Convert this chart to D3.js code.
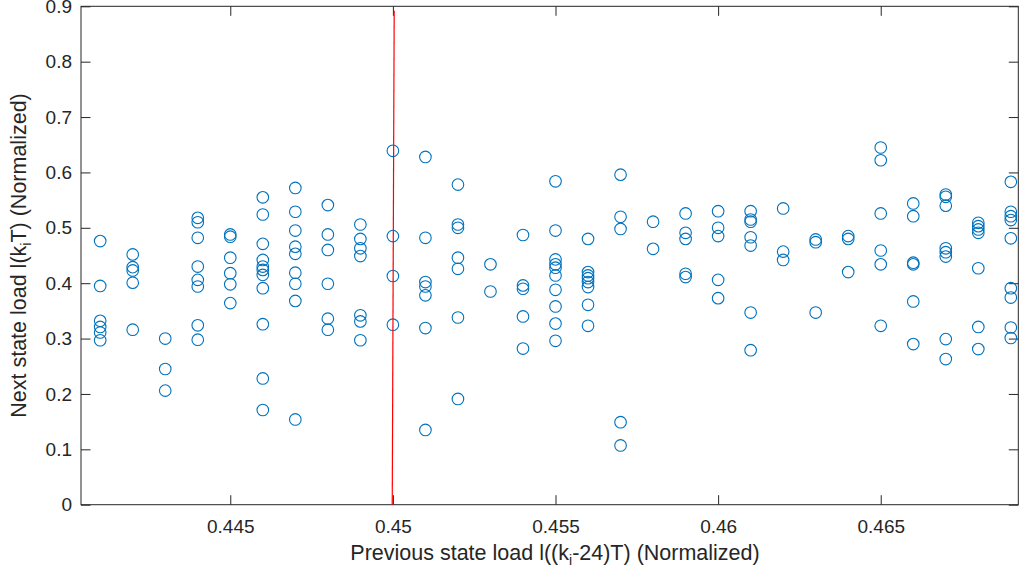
<!DOCTYPE html>
<html>
<head>
<meta charset="utf-8">
<script src="https://cdn.jsdelivr.net/npm/d3@7"></script>
<style>
  body { margin: 0; background: #fff; }
  svg { display: block; font-family: "Liberation Sans", Arial, Helvetica, sans-serif; }
</style>
</head>
<body>
<svg id="chart" width="1020" height="577"></svg>
<script>
// previous state load (x) – one column per value
const prevLoad = [0.441, 0.442, 0.443, 0.444, 0.445, 0.446, 0.447, 0.448, 0.449, 0.450,
                  0.451, 0.452, 0.453, 0.454, 0.455, 0.456, 0.457, 0.458, 0.459, 0.460,
                  0.461, 0.462, 0.463, 0.464, 0.465, 0.466, 0.467, 0.468, 0.469];

// next state load (y) for each column above
const nextLoad = [
    [0.476, 0.395, 0.332, 0.321, 0.311, 0.297],
    [0.452, 0.429, 0.423, 0.401, 0.316],
    [0.300, 0.245, 0.206],
    [0.518, 0.510, 0.482, 0.430, 0.406, 0.394, 0.324, 0.298],
    [0.488, 0.484, 0.446, 0.418, 0.398, 0.364],
    [0.555, 0.524, 0.471, 0.442, 0.430, 0.424, 0.415, 0.391, 0.326, 0.228, 0.171],
    [0.572, 0.529, 0.495, 0.466, 0.453, 0.419, 0.399, 0.368, 0.154],
    [0.541, 0.488, 0.460, 0.399, 0.336, 0.316],
    [0.506, 0.480, 0.463, 0.449, 0.342, 0.331, 0.297],
    [0.639, 0.485, 0.413, 0.325],
    [0.628, 0.482, 0.402, 0.394, 0.378, 0.319, 0.135],
    [0.578, 0.506, 0.500, 0.446, 0.426, 0.338, 0.191],
    [0.434, 0.385],
    [0.487, 0.396, 0.390, 0.340, 0.282],
    [0.584, 0.495, 0.443, 0.434, 0.428, 0.414, 0.388, 0.358, 0.327, 0.296],
    [0.480, 0.420, 0.414, 0.409, 0.402, 0.393, 0.361, 0.323],
    [0.596, 0.520, 0.498, 0.149, 0.107],
    [0.511, 0.462],
    [0.526, 0.491, 0.480, 0.417, 0.411],
    [0.530, 0.500, 0.485, 0.406, 0.373],
    [0.530, 0.515, 0.511, 0.483, 0.468, 0.347, 0.279],
    [0.535, 0.457, 0.442],
    [0.479, 0.474, 0.347],
    [0.485, 0.480, 0.420],
    [0.645, 0.622, 0.526, 0.459, 0.434, 0.323],
    [0.544, 0.521, 0.437, 0.434, 0.367, 0.290],
    [0.560, 0.556, 0.540, 0.463, 0.456, 0.448, 0.299, 0.263],
    [0.509, 0.503, 0.497, 0.491, 0.427, 0.321, 0.281],
    [0.583, 0.529, 0.521, 0.514, 0.481, 0.391, 0.374, 0.320, 0.301]
];

// red reference line (x, y) end points
const refLine = [[0.44998, 0], [0.45004, 0.892]];

const xTicks = [0.445, 0.45, 0.455, 0.46, 0.465];
const yTicks = [0, 0.1, 0.2, 0.3, 0.4, 0.5, 0.6, 0.7, 0.8, 0.9];

const xTitle = 'Previous state load l((k';
const yTitle = 'Next state load l(k';

const points = prevLoad.flatMap((x, i) => nextLoad[i].map(y => ({ x, y })));

const svg = d3.select('#chart');
const plotLeft = 81, plotRight = 1018.3, plotTop = 6.3, plotBottom = 504.7;

const x = d3.scaleLinear().domain([0.44041, 0.46923]).range([plotLeft, plotRight]);
const y = d3.scaleLinear().domain([0, 0.9]).range([plotBottom, plotTop]);

const axisColor = '#262626';
const tickLen = 9.5;

// axes box
const gAxes = svg.append('g');

gAxes.append('g')
    .attr('transform', `translate(0,${plotBottom})`)
    .call(d3.axisBottom(x).tickValues(xTicks).tickSize(-tickLen).tickPadding(15).tickFormat(d => String(d)))
    .call(g => g.selectAll('text').attr('font-size', 19).attr('fill', axisColor).attr('dy', '0.71em'));

gAxes.append('g')
    .attr('transform', `translate(0,${plotTop})`)
    .call(d3.axisTop(x).tickValues(xTicks).tickSize(-tickLen).tickFormat(''));

gAxes.append('g')
    .attr('transform', `translate(${plotLeft},0)`)
    .call(d3.axisLeft(y).tickValues(yTicks).tickSize(-tickLen).tickPadding(9).tickFormat(d => String(d)))
    .call(g => g.selectAll('text').attr('font-size', 19).attr('fill', axisColor));

gAxes.append('g')
    .attr('transform', `translate(${plotRight},0)`)
    .call(d3.axisRight(y).tickValues(yTicks).tickSize(-tickLen).tickFormat(''));

gAxes.selectAll('.domain').remove();
gAxes.selectAll('.tick line').attr('stroke', axisColor).attr('stroke-width', 1);

gAxes.append('rect')
    .attr('x', plotLeft).attr('y', plotTop)
    .attr('width', plotRight - plotLeft).attr('height', plotBottom - plotTop)
    .attr('fill', 'none').attr('stroke', axisColor).attr('stroke-width', 1);

// markers
svg.append('g')
    .selectAll('circle')
    .data(points)
    .enter()
    .append('circle')
    .attr('cx', d => x(d.x))
    .attr('cy', d => y(d.y))
    .attr('r', 5.8)
    .attr('fill', 'none')
    .attr('stroke', '#0072BD')
    .attr('stroke-width', 1.1);

// red line
svg.append('line')
    .attr('x1', x(refLine[0][0])).attr('y1', y(refLine[0][1]))
    .attr('x2', x(refLine[1][0])).attr('y2', y(refLine[1][1]))
    .attr('stroke', '#FF0000')
    .attr('stroke-width', 1.2);

// x label with subscript
const xl = svg.append('text')
    .attr('x', 555)
    .attr('y', 560)
    .attr('text-anchor', 'middle')
    .attr('font-size', 21.5)
    .attr('fill', axisColor);
xl.append('tspan').text(xTitle);
xl.append('tspan').attr('font-size', 14).attr('dy', 5).text('i');
xl.append('tspan').attr('dy', -5).text('-24)T) (Normalized)');

// y label with subscript
const yl = svg.append('text')
    .attr('transform', `translate(26,${(plotTop + plotBottom) / 2}) rotate(-90)`)
    .attr('text-anchor', 'middle')
    .attr('font-size', 21.5)
    .attr('fill', axisColor);
yl.append('tspan').text(yTitle);
yl.append('tspan').attr('font-size', 14).attr('dy', 5).text('i');
yl.append('tspan').attr('dy', -5).text('T) (Normalized)');
</script>
</body>
</html>
